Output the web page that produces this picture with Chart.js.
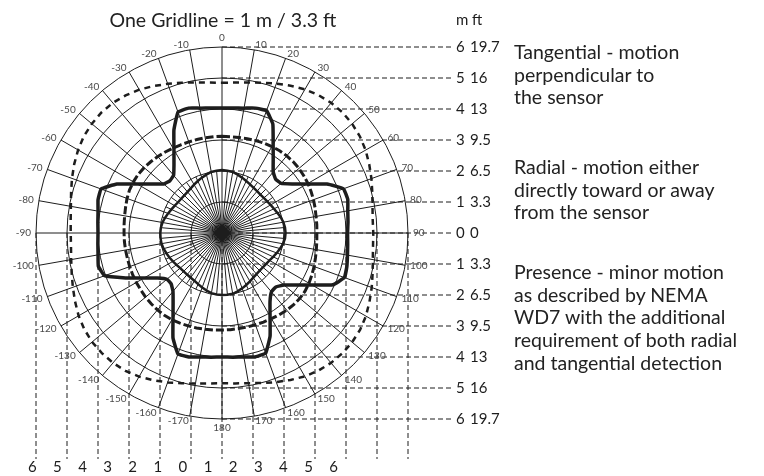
<!DOCTYPE html>
<html>
<head>
<meta charset="utf-8">
<script src="https://cdn.jsdelivr.net/npm/chart.js@4.4.1/dist/chart.umd.min.js"></script>
<style>
  body { margin: 0; background: #fff; }
  #wrap { position: relative; width: 764px; height: 476px; overflow: hidden; }
  #chartCanvas { position: absolute; left: 0; top: 0; }
  .txt { position: absolute; font-family: Lato, "Open Sans", sans-serif; color: #222; white-space: nowrap; }
  #title { left: 0; width: 446px; top: 7px; text-align: center; font-size: 19.5px; line-height: 26px; }
  .note { left: 514px; font-size: 19.5px; line-height: 22.7px; }
</style>
</head>
<body>
<div id="wrap">
  <canvas id="chartCanvas" width="764" height="476"></canvas>
  <div class="txt" id="title">One Gridline = 1 m / 3.3 ft</div>
  <div class="txt note" style="top:41px">Tangential - motion<br>perpendicular to<br>the sensor</div>
  <div class="txt note" style="top:156px">Radial - motion either<br>directly toward or away<br>from the sensor</div>
  <div class="txt note" style="top:261px">Presence - minor motion<br>as described by NEMA<br>WD7 with the additional<br>requirement of both radial<br>and tangential detection</div>
</div>
<script>
// bearings every 5 degrees, clockwise from the top; only every 10 degrees is labelled
const angleLabels = ['0','','10','','20','','30','','40','','50','','60','','70','','80','',
                     '90','','100','','110','','120','','130','','140','','150','','160','','170','',
                     '180','','-170','','-160','','-150','','-140','','-130','','-120','','-110','','-100','',
                     '-90','','-80','','-70','','-60','','-50','','-40','','-30','','-20','','-10',''];

// detection ranges in metres, one value per bearing
const presence = [
  2.03, 2.02, 2.0, 1.95, 1.9, 1.85, 1.81, 1.78, 1.76, 1.75, 1.76, 1.78, 1.81, 1.85, 1.9, 1.96, 2.01, 2.04,
  2.05, 2.04, 2.0, 1.94, 1.88, 1.82, 1.77, 1.74, 1.72, 1.72, 1.73, 1.76, 1.8, 1.85, 1.9, 1.95, 1.99, 2.0,
  2.0, 1.99, 1.97, 1.92, 1.87, 1.82, 1.78, 1.76, 1.75, 1.75, 1.76, 1.79, 1.83, 1.87, 1.91, 1.95, 1.98, 1.99,
  1.99, 1.98, 1.95, 1.9, 1.85, 1.8, 1.76, 1.73, 1.72, 1.72, 1.73, 1.76, 1.8, 1.85, 1.9, 1.95, 2.0, 2.02
];
const radial = [
  3.12, 3.12, 3.13, 3.15, 3.17, 3.2, 3.22, 3.24, 3.25, 3.25, 3.24, 3.22, 3.2, 3.17, 3.14, 3.11, 3.08, 3.07,
  3.06, 3.07, 3.09, 3.12, 3.16, 3.2, 3.24, 3.27, 3.28, 3.27, 3.25, 3.22, 3.19, 3.17, 3.15, 3.14, 3.13, 3.13,
  3.13, 3.14, 3.15, 3.17, 3.19, 3.21, 3.23, 3.24, 3.24, 3.23, 3.22, 3.2, 3.19, 3.18, 3.17, 3.16, 3.16, 3.16,
  3.16, 3.17, 3.19, 3.22, 3.26, 3.29, 3.3, 3.3, 3.28, 3.25, 3.22, 3.19, 3.16, 3.14, 3.13, 3.12, 3.12, 3.12
];
const tangential = [
  4.03, 4.05, 4.09, 4.17, 4.2, 3.88, 3.3, 2.88, 2.57, 2.45, 2.49, 2.76, 3.16, 3.74, 4.17, 4.2, 4.12, 4.08,
  4.05, 4.07, 4.11, 4.17, 4.2, 3.95, 3.36, 2.93, 2.61, 2.46, 2.48, 2.7, 3.1, 3.67, 4.12, 4.14, 4.06, 4.02,
  4.0, 4.02, 4.06, 4.14, 4.15, 3.74, 3.16, 2.75, 2.46, 2.32, 2.32, 2.53, 2.9, 3.43, 4.03, 4.13, 4.06, 4.02,
  4.0, 4.02, 4.06, 4.14, 4.15, 3.74, 3.16, 2.75, 2.46, 2.38, 2.43, 2.7, 3.1, 3.67, 4.15, 4.17, 4.09, 4.05
];
const outerLimit = [
  4.85, 4.87, 4.93, 5.02, 5.13, 5.24, 5.35, 5.43, 5.48, 5.5, 5.48, 5.43, 5.35, 5.24, 5.13, 5.02, 4.93, 4.88,
  4.88, 4.89, 4.94, 5.03, 5.14, 5.25, 5.36, 5.44, 5.48, 5.49, 5.47, 5.42, 5.34, 5.23, 5.12, 5.01, 4.92, 4.87,
  4.85, 4.87, 4.93, 5.02, 5.13, 5.24, 5.35, 5.43, 5.47, 5.48, 5.47, 5.42, 5.34, 5.23, 5.12, 5.02, 4.94, 4.89,
  4.88, 4.9, 4.95, 5.04, 5.15, 5.26, 5.36, 5.44, 5.48, 5.5, 5.48, 5.42, 5.34, 5.23, 5.12, 5.02, 4.93, 4.87
];
const sensorMark = [0];

// distance scale: offsets of the dashed gridlines (m) and their labels
const gridSteps = [6, 5, 4, 3, 2, 1, 0, -1, -2, -3, -4, -5, -6];
const metreLabels = ['6', '5', '4', '3', '2', '1', '0', '1', '2', '3', '4', '5', '6'];
const feetLabels = ['19.7', '16', '13', '9.5', '6.5', '3.3', '0', '3.3', '6.5', '9.5', '13', '16', '19.7'];
const widthLabels = ['6', '5', '4', '3', '2', '1', '0', '1', '2', '3', '4', '5', '6'];

const ink = '#1d1d1d';
Chart.defaults.font.family = 'Lato';

// extra spokes, dashed projection lines and all the scale text
const overlay = {
  id: 'overlay',
  beforeDatasetsDraw(chart) {
    const r = chart.scales.r;
    const ctx = chart.ctx;
    const cx = r.xCenter, cy = r.yCenter;
    const unit = r.getDistanceFromCenterForValue(1) - r.getDistanceFromCenterForValue(0);
    ctx.save();
    ctx.strokeStyle = ink;
    ctx.lineWidth = 1;
    for (let i = 1; i < angleLabels.length; i += 2) {
      const p = r.getPointPositionForValue(i, 2);
      ctx.beginPath();
      ctx.moveTo(cx, cy);
      ctx.lineTo(p.x, p.y);
      ctx.stroke();
    }

    const rightEnd = cx + 7.42 * unit;
    const bottomEnd = cy + 7.29 * unit;
    ctx.setLineDash([5, 3]);
    gridSteps.forEach(v => {
      const y = cy - v * unit;
      ctx.beginPath();
      ctx.moveTo(cx, y);
      ctx.lineTo(rightEnd, y);
      ctx.stroke();
      const x = cx - v * unit;
      ctx.beginPath();
      ctx.moveTo(x, cy);
      ctx.lineTo(x, bottomEnd);
      ctx.stroke();
    });
    ctx.setLineDash([]);

    ctx.fillStyle = ink;
    ctx.font = '15px Lato';
    ctx.textBaseline = 'middle';
    ctx.textAlign = 'left';
    gridSteps.forEach((v, k) => {
      const y = cy - v * unit;
      ctx.fillText(metreLabels[k], rightEnd + 4, y);
      ctx.fillText(feetLabels[k], rightEnd + 18, y);
    });
    ctx.fillText('m', rightEnd + 4, cy - 6 * unit - 27);
    ctx.fillText('ft', rightEnd + 20, cy - 6 * unit - 27);

    ctx.textAlign = 'center';
    widthLabels.forEach((t, k) => {
      ctx.fillText(t, cx - 6.12 * unit + k * 0.81 * unit, bottomEnd + 8);
    });

    // bearing labels sit outside the rim, pushed away from the circle like point labels
    ctx.font = '10px Lato';
    ctx.fillStyle = '#4a4a4a';
    angleLabels.forEach((t, i) => {
      if (!t) return;
      const deg = i * 360 / angleLabels.length;
      const axial = deg === 0 || deg === 180;
      const p = r.getPointPosition(i, r.drawingArea + (axial ? 9 : 5));
      ctx.textAlign = axial ? 'center' : (deg < 180 ? 'left' : 'right');
      ctx.fillText(t, p.x, p.y);
    });
    ctx.restore();
  }
};

const line = (label, data, width, dash, tension) => ({
  label: label,
  data: data,
  borderColor: ink,
  backgroundColor: 'transparent',
  borderWidth: width,
  borderDash: dash,
  pointRadius: 0,
  fill: false,
  tension: tension
});

new Chart(document.getElementById('chartCanvas').getContext('2d'), {
  type: 'radar',
  data: {
    labels: angleLabels,
    datasets: [
      line('Presence', presence, 2.5, [], 0),
      line('Radial', radial, 3, [8, 3], 0),
      line('Tangential', tangential, 3.5, [], 0.1),
      line('Limit', outerLimit, 2.5, [6, 5], 0),
      {
        label: 'Sensor',
        data: sensorMark,
        showLine: false,
        pointStyle: 'rectRot',
        pointRadius: 9,
        pointBackgroundColor: ink,
        pointBorderWidth: 0,
        borderWidth: 0
      }
    ]
  },
  options: {
    responsive: false,
    animation: false,
    layout: { padding: { left: 36, top: 47, right: 356, bottom: 57 } },
    plugins: { legend: { display: false }, tooltip: { enabled: false } },
    scales: {
      r: {
        min: 0,
        max: 6,
        ticks: { display: false, stepSize: 1 },
        pointLabels: { display: false },
        grid: { circular: true, color: ink, lineWidth: 1 },
        angleLines: {
          color: ctx => ctx.index % 2 ? 'rgba(0,0,0,0)' : ink,
          lineWidth: 1
        }
      }
    }
  },
  plugins: [overlay]
});
</script>
</body>
</html>
